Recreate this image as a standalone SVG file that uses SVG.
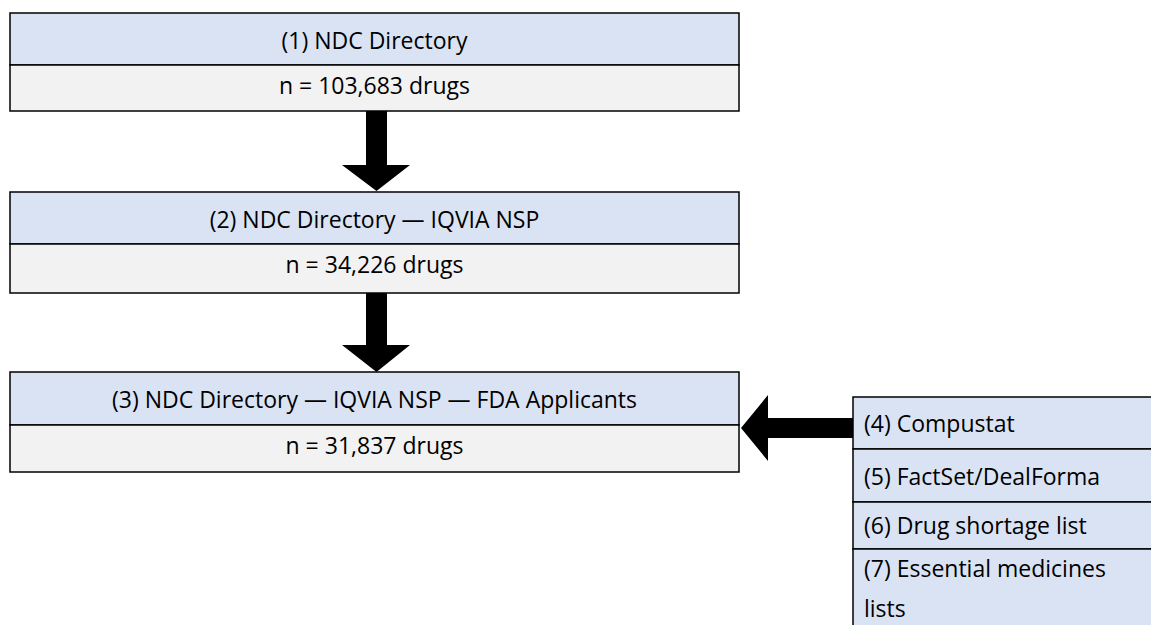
<svg xmlns="http://www.w3.org/2000/svg" width="1151" height="625" viewBox="0 0 1151 625">
<style>
.hd{fill:#DAE3F3;stroke:#000;stroke-width:1.5}
.bd{fill:#F2F2F2;stroke:#000;stroke-width:1.5}
.t{font-family:"Open Sans","Liberation Sans",sans-serif;font-size:23px;fill:#000}
.c{text-anchor:middle}
.arr{fill:#000;stroke:none}
</style>
<rect width="1151" height="625" fill="#fff"/>
<g id="node1">
<rect class="hd" x="10" y="13" width="729" height="52"/>
<rect class="bd" x="10" y="65" width="729" height="46"/>
<text class="t c" x="374.5" y="49">(1) NDC Directory</text>
<text class="t c" x="374.5" y="94">n = 103,683 drugs</text>
</g>
<g id="node2">
<rect class="hd" x="10" y="192" width="729" height="52"/>
<rect class="bd" x="10" y="244" width="729" height="49"/>
<text class="t c" x="374.5" y="228">(2) NDC Directory — IQVIA NSP</text>
<text class="t c" x="374.5" y="273">n = 34,226 drugs</text>
</g>
<g id="node3">
<rect class="hd" x="10" y="372" width="729" height="53"/>
<rect class="bd" x="10" y="425" width="729" height="47"/>
<text class="t c" x="374.5" y="408">(3) NDC Directory — IQVIA NSP — FDA Applicants</text>
<text class="t c" x="374.5" y="454">n = 31,837 drugs</text>
</g>
<g id="node4">
<rect class="hd" x="853" y="397" width="310" height="52"/>
<rect class="hd" x="853" y="449" width="310" height="53"/>
<rect class="hd" x="853" y="502" width="310" height="47"/>
<rect class="hd" x="853" y="549" width="310" height="90"/>
<text class="t" x="864" y="432">(4) Compustat</text>
<text class="t" x="864" y="485">(5) FactSet/DealForma</text>
<text class="t" x="864" y="534">(6) Drug shortage list</text>
<text class="t" x="864" y="577">(7) Essential medicines</text>
<text class="t" x="864" y="617">lists</text>
</g>
<g id="connectors">
<polygon class="arr" points="366,111 387,111 387,165 410,165 376.5,191 342,165 366,165"/>
<polygon class="arr" points="366,293 387,293 387,345 410,345 376.5,372 342,345 366,345"/>
<polygon class="arr" points="853,418 853,438 768,438 768,461 741,428 768,395 768,418"/>
</g>
</svg>
